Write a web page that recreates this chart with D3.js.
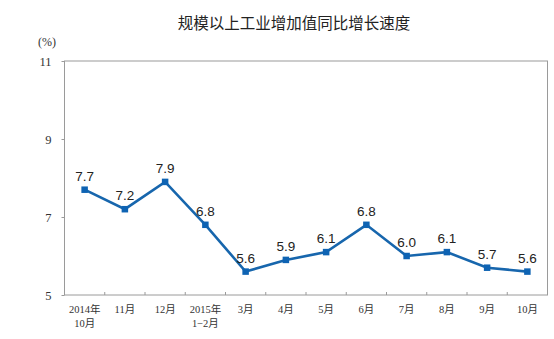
<!DOCTYPE html>
<html>
<head>
<meta charset="utf-8">
<script src="https://cdn.jsdelivr.net/npm/d3@7"></script>
<style>
  html, body { margin: 0; padding: 0; background: #fff; }
  svg { display: block; }
</style>
</head>
<body>
<svg id="chart" width="554" height="339"></svg>
<script>
// Monthly growth of industrial value added (year on year, %)
const categories = [
  ["2014年", "10月"], ["11月"], ["12月"], ["2015年", "1−2月"], ["3月"], ["4月"],
  ["5月"], ["6月"], ["7月"], ["8月"], ["9月"], ["10月"]
];
const values = [7.7, 7.2, 7.9, 6.8, 5.6, 5.9, 6.1, 6.8, 6.0, 6.1, 5.7, 5.6];
const yTicks = [5, 7, 9, 11];
const titleText = "规模以上工业增加值同比增长速度";
const unitText = "(%)";

const svg = d3.select("#chart");
const m = { left: 64.5, right: 547.5, top: 61, bottom: 295 };

const x = d3.scaleBand()
  .domain(d3.range(categories.length))
  .range([m.left, m.right])
  .paddingInner(0).paddingOuter(0);

const y = d3.scaleLinear().domain([5, 11]).range([m.bottom, m.top]);

const axisColor = "#9a9a9a";
const lineColor = "#1766ad";
const markColor = "#0e63b3";

// title
svg.append("text")
  .attr("x", 294).attr("y", 29)
  .attr("text-anchor", "middle")
  .attr("font-family", "'Noto Sans CJK SC', sans-serif")
  .attr("font-size", 15.5)
  .attr("fill", "#222")
  .text(titleText);

// unit
svg.append("text")
  .attr("x", 47).attr("y", 46)
  .attr("text-anchor", "middle")
  .attr("font-family", "'Liberation Serif', serif")
  .attr("font-size", 12)
  .attr("fill", "#333")
  .text(unitText);

// plot frame
svg.append("rect")
  .attr("x", m.left).attr("y", m.top)
  .attr("width", m.right - m.left).attr("height", m.bottom - m.top)
  .attr("fill", "none").attr("stroke", axisColor).attr("stroke-width", 1);

// y axis
const yAxis = d3.axisLeft(y).tickValues(yTicks).tickSize(3).tickPadding(10)
  .tickFormat(d3.format("d"));
const gy = svg.append("g").attr("transform", `translate(${m.left},0)`).call(yAxis);
gy.select(".domain").remove();
gy.selectAll(".tick line").attr("stroke", axisColor);
gy.selectAll(".tick text")
  .attr("font-family", "'Liberation Serif', serif")
  .attr("font-size", 12.5)
  .attr("fill", "#333");

// x axis: tick marks on band boundaries, pointing into the plot
const boundaries = d3.range(1, categories.length).map(i => x(i));
svg.append("g").selectAll("line").data(boundaries).join("line")
  .attr("x1", d => d).attr("x2", d => d)
  .attr("y1", m.bottom).attr("y2", m.bottom - 3)
  .attr("stroke", axisColor);

// x labels
const xl = svg.append("g").selectAll("text").data(categories).join("text")
  .attr("text-anchor", "middle")
  .attr("font-family", "'Liberation Serif', 'Noto Sans CJK SC', serif")
  .attr("font-size", 10.5)
  .attr("fill", "#333")
  .attr("transform", (d, i) => `translate(${x(i) + x.bandwidth() / 2},${m.bottom + 18})`);
xl.selectAll("tspan").data(d => d).join("tspan")
  .attr("x", 0)
  .attr("dy", (d, i) => i === 0 ? 0 : 13.5)
  .text(d => d);

// line
const line = d3.line()
  .x((d, i) => x(i) + x.bandwidth() / 2)
  .y(d => y(d));
svg.append("path")
  .datum(values)
  .attr("d", line)
  .attr("fill", "none")
  .attr("stroke", lineColor)
  .attr("stroke-width", 2.6)
  .attr("stroke-linejoin", "miter");

// markers
const ms = 6.5;
svg.append("g").selectAll("rect").data(values).join("rect")
  .attr("x", (d, i) => x(i) + x.bandwidth() / 2 - ms / 2)
  .attr("y", d => y(d) - ms / 2)
  .attr("width", ms).attr("height", ms)
  .attr("fill", markColor);

// value labels
svg.append("g").selectAll("text").data(values).join("text")
  .attr("x", (d, i) => x(i) + x.bandwidth() / 2)
  .attr("y", d => y(d) - 9)
  .attr("text-anchor", "middle")
  .attr("font-family", "'Liberation Sans', Arial, sans-serif")
  .attr("font-size", 13.5)
  .attr("fill", "#222")
  .text(d => d.toFixed(1));
</script>
</body>
</html>
